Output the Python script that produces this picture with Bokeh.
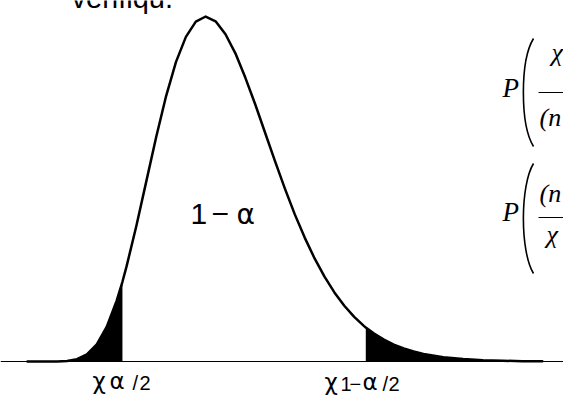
from bokeh.plotting import figure
from bokeh.models import Range1d, Label, Span
from bokeh.embed import file_html
from bokeh.resources import INLINE

# ---- data (chi-square shaped density) ----
chi_x = [0, 1, 2, 3, 4, 5, 6, 7, 8, 9, 10, 11, 12, 13, 14, 15, 16, 17, 18, 19,
         20, 21, 22, 23, 24, 25, 26, 27, 28, 29, 30, 31, 32, 33, 34, 35, 36, 37,
         38, 39, 40, 42, 44, 46, 48, 50, 52]
density = [0.0, 0.0, 0.0000005, 0.0000118, 0.000095, 0.000431, 0.00135, 0.00328,
           0.00662, 0.01159, 0.01813, 0.02594, 0.03443, 0.04290, 0.05074, 0.05727,
           0.06204, 0.06496, 0.06594, 0.06503, 0.06254, 0.05890, 0.05427, 0.04916,
           0.04372, 0.03830, 0.03305, 0.02812, 0.02368, 0.01970, 0.01621, 0.01321,
           0.01065, 0.00853, 0.00677, 0.00533, 0.00417, 0.00323, 0.00249, 0.00191,
           0.00145, 0.00083, 0.00046, 0.00025, 0.00014, 0.00007, 0.00004]
q_low, dens_low = 9.59, 0.01524
q_high, dens_high = 34.17, 0.00649

center_label = ["1", "−", "α"]
low_label = ["χ", "α", "/", "2"]
high_label = ["χ", "1", "−", "α", "/", "2"]
top_text = "vérifiqu."

# ---- layout ----
W, H = 563, 398
X0_PX = 27.0      # px of x = 0
SX = 9.9          # px per x unit
BASE_PX = 361.0   # px (from top) of density 0
SY = 5232.0       # px per density unit

p = figure(width=W, height=H, title=None,
           x_range=Range1d(-X0_PX / SX, (W - X0_PX) / SX),
           y_range=Range1d(-(H - BASE_PX) / SY, BASE_PX / SY),
           x_axis_type=None, y_axis_type=None,
           output_backend="svg", toolbar_location=None, min_border=0)
p.grid.visible = False
p.outline_line_color = None
p.background_fill_color = "white"
p.border_fill_color = "white"

# pixel helpers for annotations
def dx(xpx):
    return (xpx - X0_PX) / SX

def dy(ypx):
    return (BASE_PX - ypx) / SY

# tails
xl = [x for x in chi_x if x < q_low] + [q_low]
yl = [d for x, d in zip(chi_x, density) if x < q_low] + [dens_low]
xr = [q_high] + [x for x in chi_x if x > q_high]
yr = [dens_high] + [d for x, d in zip(chi_x, density) if x > q_high]
p.varea(x=xl, y1=[0] * len(xl), y2=yl, fill_color="black")
p.varea(x=xr, y1=[0] * len(xr), y2=yr, fill_color="black")

# baseline
p.add_layout(Span(location=0, dimension="width", line_color="black", line_width=1))

# curve
pts = sorted(list(zip(chi_x, density)) + [(q_low, dens_low), (q_high, dens_high)])
p.line([a for a, b in pts], [b for a, b in pts], line_color="black", line_width=2.5,
       line_join="round", line_cap="round")

SANS = "Liberation Sans"
GREEK = "DejaVu Sans"
SERIF = "Liberation Serif"

def lab(text, xpx, ypx, size, font=SANS, style="normal"):
    sz = float(size.replace("px", ""))
    # labels were observed to land ~0.4 em below the requested baseline
    p.add_layout(Label(x=xpx, y=H - ypx + 0.4 * sz, x_units="screen", y_units="screen",
                       text=text, text_font=font, text_font_size=size,
                       text_font_style=style, text_color="black",
                       text_baseline="alphabetic", text_align="left"))

# texts
lab(top_text, 71, 9, "29px")
lab(center_label[0], 190, 225, "30px")
lab(center_label[1], 211, 225, "30px")
lab(center_label[2], 236, 225, "28px", GREEK)

lab(low_label[0], 92, 390, "23px", GREEK)
lab(low_label[1], 109, 390, "23px", GREEK)
lab(low_label[2], 132, 390, "20px")
lab(low_label[3], 139, 390, "20px")

lab(high_label[0], 324, 391, "23px", GREEK)
lab(high_label[1], 340, 391, "20px")
lab(high_label[2], 349, 391, "20px")
lab(high_label[3], 362, 391, "23px", GREEK)
lab(high_label[4], 382, 391, "20px")
lab(high_label[5], 388, 391, "20px")

# right-hand formulas (cut off at the page edge)
lab("P", 502, 98, "27px", SERIF, "italic")
lab("P", 502, 222, "27px", SERIF, "italic")
p.bezier(x0=[dx(533), dx(533)], y0=[dy(38), dy(163)],
         x1=[dx(533), dx(533)], y1=[dy(146), dy(273)],
         cx0=[dx(519.5), dx(519.5)], cy0=[dy(60), dy(185)],
         cx1=[dx(519.5), dx(519.5)], cy1=[dy(124), dy(251)],
         line_color="black", line_width=1.6)
p.segment(x0=[dx(538), dx(538)], y0=[dy(92), dy(217)],
          x1=[dx(570), dx(570)], y1=[dy(92), dy(217)],
          line_color="black", line_width=1.2)
lab("χ", 551, 62, "26px", SERIF, "italic")
lab("(n", 539, 127, "26px", SERIF, "italic")
lab("(n", 539, 203, "26px", SERIF, "italic")
lab("χ", 546, 244, "26px", SERIF, "italic")

open("out.html", "w").write(file_html(p, INLINE))
